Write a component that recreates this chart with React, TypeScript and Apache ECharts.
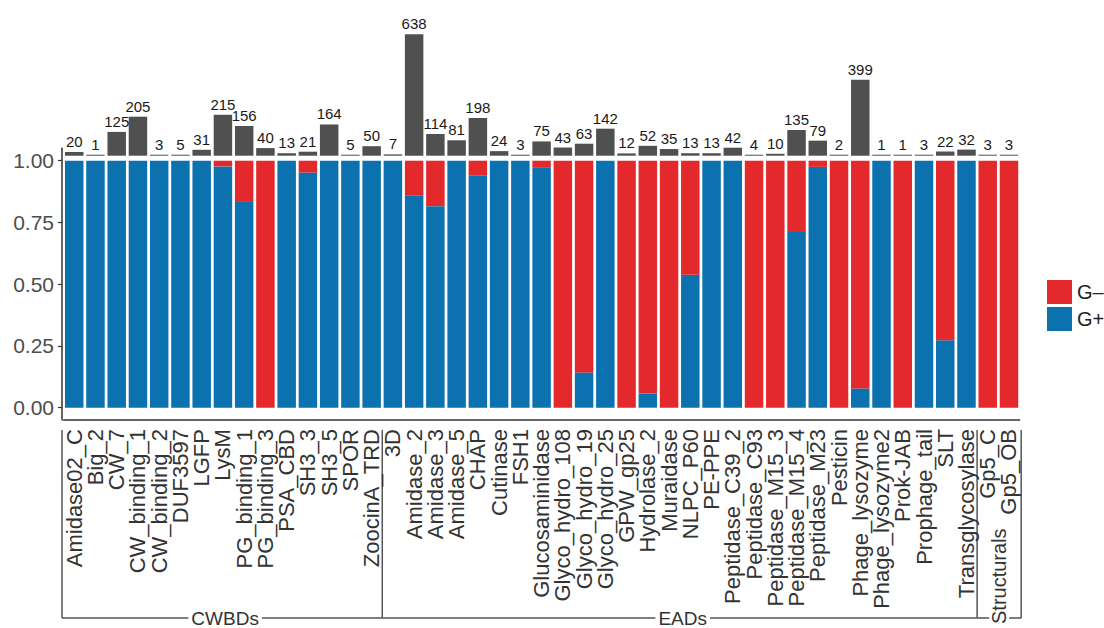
import React, { useEffect, useRef } from "react";
import * as echarts from "echarts";

const categories = [
  "Amidase02_C", "Big_2", "CW_7", "CW_binding_1", "CW_binding_2", "DUF3597", "LGFP", "LysM",
  "PG_binding_1", "PG_binding_3", "PSA_CBD", "SH3_3", "SH3_5", "SPOR", "ZoocinA_TRD",
  "3D", "Amidase_2", "Amidase_3", "Amidase_5", "CHAP", "Cutinase", "FSH1", "Glucosaminidase",
  "Glyco_hydro_108", "Glyco_hydro_19", "Glyco_hydro_25", "GPW_gp25", "Hydrolase_2", "Muraidase",
  "NLPC_P60", "PE-PPE", "Peptidase_C39_2", "Peptidase_C93", "Peptidase_M15_3", "Peptidase_M15_4",
  "Peptidase_M23", "Pesticin", "Phage_lysozyme", "Phage_lysozyme2", "Prok-JAB", "Prophage_tail",
  "SLT", "Transglycosylase",
  "Gp5_C", "Gp5_OB",
];

const counts = [
  20, 1, 125, 205, 3, 5, 31, 215, 156, 40, 13, 21, 164, 5, 50,
  7, 638, 114, 81, 198, 24, 3, 75, 43, 63, 142, 12, 52, 35, 13, 13, 42, 4, 10, 135, 79, 2, 399, 1, 1, 3, 22, 32,
  3, 3,
];

const gPos = [
  1, 1, 1, 1, 1, 1, 1, 0.977, 0.833, 0, 1, 0.952, 1, 1, 1,
  1, 0.858, 0.816, 1, 0.939, 1, 1, 0.973, 0, 0.143, 1, 0, 0.058, 0, 0.538, 1, 1, 0, 0, 0.711, 0.975, 0, 0.078, 1, 0, 1, 0.273, 1,
  0, 0,
];

const gNeg = [
  0, 0, 0, 0, 0, 0, 0, 0.023, 0.167, 1, 0, 0.048, 0, 0, 0,
  0, 0.142, 0.184, 0, 0.061, 0, 0, 0.027, 1, 0.857, 0, 1, 0.942, 1, 0.462, 0, 0, 1, 1, 0.289, 0.025, 1, 0.922, 0, 1, 0, 0.727, 0,
  1, 1,
];

const yTicks = [0, 0.25, 0.5, 0.75, 1];
const groupNames = ["CWBDs", "EADs", "Structurals"];
const groupSizes = [15, 28, 2];

const FONT = "'Liberation Sans', Arial, Helvetica, sans-serif";
const RED = "#E3292B";
const BLUE = "#0B72AF";
const GREY = "#505050";
const LINE = "#555555";

export default function App() {
  const ref = useRef<HTMLDivElement>(null);

  useEffect(() => {
    if (!ref.current) return;
    const chart = echarts.init(ref.current, null, { renderer: "svg" });
    const gridLeft = 63.6;
    const gridRight = 84.4;
    const option: any = {
      animation: false,
      backgroundColor: "#ffffff",
      textStyle: { fontFamily: FONT },
      legend: {
        data: ["G–", "G+"],
        orient: "vertical",
        left: 1042,
        top: 275,
        icon: "rect",
        itemWidth: 25,
        itemHeight: 24,
        itemGap: 3,
        textStyle: { fontSize: 20, color: "#222", fontFamily: FONT },
        selectedMode: false,
      },
      grid: [
        { left: gridLeft, right: gridRight, top: 148.35, height: 271.7 },
        { left: gridLeft, right: gridRight, top: 34.3, height: 121.4 },
      ],
      xAxis: [
        {
          type: "category",
          gridIndex: 0,
          data: categories,
          axisLine: { onZero: false, lineStyle: { color: "#333", width: 1.5 } },
          axisTick: { alignWithLabel: true, length: 4, lineStyle: { color: "#333", width: 1.2 } },
          axisLabel: {
            rotate: 90,
            interval: 0,
            fontSize: 22,
            margin: 9,
            color: "#333",
            fontFamily: FONT,
          },
        },
        { type: "category", gridIndex: 1, data: categories, show: false },
      ],
      yAxis: [
        {
          type: "value",
          gridIndex: 0,
          min: -0.05,
          max: 1.05,
          offset: 1.6,
          splitLine: { show: false },
          axisLine: { show: true, lineStyle: { color: "#333", width: 1.5 } },
          axisTick: { show: true, length: 4, customValues: yTicks, lineStyle: { color: "#333", width: 1.2 } },
          axisLabel: {
            customValues: yTicks,
            formatter: (v: number) => v.toFixed(2),
            fontSize: 21,
            margin: 8,
            color: "#4d4d4d",
            fontFamily: FONT,
          },
        },
        { type: "value", gridIndex: 1, min: 0, max: 638, show: false },
      ],
      series: [
        {
          name: "G+",
          type: "bar",
          stack: "p",
          xAxisIndex: 0,
          yAxisIndex: 0,
          data: gPos,
          barCategoryGap: "13%",
          itemStyle: { color: BLUE },
        },
        {
          name: "G–",
          type: "bar",
          stack: "p",
          xAxisIndex: 0,
          yAxisIndex: 0,
          data: gNeg,
          barCategoryGap: "13%",
          itemStyle: { color: RED },
        },
        {
          name: "count",
          type: "bar",
          xAxisIndex: 1,
          yAxisIndex: 1,
          data: counts,
          barCategoryGap: "13%",
          barMinHeight: 1,
          itemStyle: { color: GREY },
          label: {
            show: true,
            position: "top",
            distance: 3,
            fontSize: 15,
            color: "#1a1a1a",
            fontFamily: FONT,
          },
        },
      ],
    };
    chart.setOption(option);

    const px = (i: number) => chart.convertToPixel({ xAxisIndex: 0 }, categories[i]) as number;
    const pitch = px(1) - px(0);
    const n = categories.length;
    const leftEdge = px(0) - 0.575 * pitch;
    const rightEdge = px(n - 1) + 0.575 * pitch;
    const yTop = 430;
    const yBot = 618;
    const bounds: number[] = [leftEdge];
    let acc = 0;
    groupSizes.forEach((s, gi) => {
      acc += s;
      if (gi < groupSizes.length - 1) bounds.push((px(acc - 1) + px(acc)) / 2);
    });
    bounds.push(rightEdge);

    const elements: any[] = [];
    bounds.forEach((bx) => {
      elements.push({
        type: "line",
        shape: { x1: bx, y1: yTop, x2: bx, y2: yBot },
        style: { stroke: LINE, lineWidth: 1.5 },
        silent: true,
      });
    });
    groupNames.forEach((name, gi) => {
      const x1 = bounds[gi];
      const x2 = bounds[gi + 1];
      elements.push({
        type: "line",
        shape: { x1, y1: yBot, x2, y2: yBot },
        style: { stroke: LINE, lineWidth: 1.5 },
        silent: true,
      });
      const narrow = x2 - x1 < 100;
      if (narrow) {
        elements.push({
          type: "text",
          x: (x1 + x2) / 2,
          y: 625,
          rotation: Math.PI / 2,
          style: {
            text: name,
            fontSize: 20,
            fontFamily: FONT,
            fill: "#333",
            align: "left",
            verticalAlign: "middle",
            backgroundColor: "#fff",
            padding: [0, 1],
          },
          silent: true,
          z: 10,
        });
      } else {
        elements.push({
          type: "text",
          x: (x1 + x2) / 2 + 3,
          y: yBot,
          style: {
            text: name,
            fontSize: 19,
            fontFamily: FONT,
            fill: "#333",
            align: "center",
            verticalAlign: "middle",
            backgroundColor: "#fff",
            padding: [0, 3],
          },
          silent: true,
          z: 10,
        });
      }
    });
    chart.setOption({ graphic: { elements } });

    return () => chart.dispose();
  }, []);

  return (
    <div
      ref={ref}
      style={{ position: "absolute", left: 0, top: 0, width: 1104, height: 628 }}
    />
  );
}
